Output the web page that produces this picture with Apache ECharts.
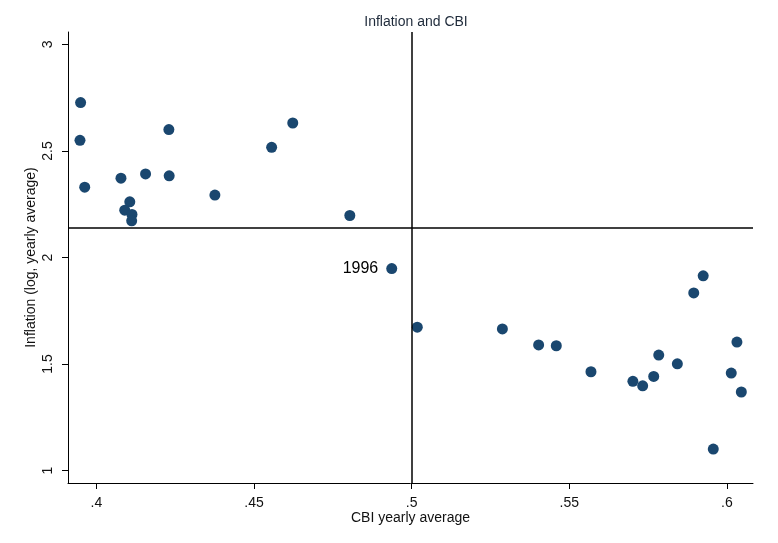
<!DOCTYPE html>
<html>
<head>
<meta charset="utf-8">
<script src="https://cdn.jsdelivr.net/npm/echarts@6/dist/echarts.min.js"></script>
<style>html,body{margin:0;padding:0;background:#fff;}#c{width:778px;height:543px;}</style>
</head>
<body>
<div id="c"></div>
<script>
const cbi = [0.395,0.3948,0.3963,0.4078,0.4156,0.423,0.4231,0.4106,0.409,0.4113,0.4112,0.4376,0.4556,0.4623,0.4804,0.4937,0.5018,0.5288,0.5403,0.5459,0.5569,0.5702,0.5733,0.5768,0.5784,0.5843,0.5895,0.5925,0.5957,0.6014,0.6032,0.6046];
const inflation = [2.727,2.550,2.330,2.372,2.392,2.600,2.383,2.261,2.222,2.202,2.172,2.293,2.517,2.631,2.197,1.948,1.673,1.665,1.590,1.586,1.464,1.419,1.398,1.442,1.542,1.501,1.834,1.914,1.101,1.458,1.603,1.369];
const pointLabels = ['','','','','','','','','','','','','','','','1996','','','','','','','','','','','','','','','',''];
const xTicks = [0.4,0.45,0.5,0.55,0.6];
const yTicks = [1,1.5,2,2.5,3];
const refX = 0.5;
const refY = 2.139;

const fmt = v => { let s = String(Math.round(v*100)/100); return s.startsWith('0.') ? s.slice(1) : s; };
const font = 'Liberation Sans, Arial, sans-serif';
const data = cbi.map((x,i)=>({value:[x,inflation[i]], name:pointLabels[i],
  label: pointLabels[i] ? {show:true, position:'left', formatter:pointLabels[i], color:'#000', fontSize:16, distance:8, fontFamily:font} : {show:false}}));

const chart = echarts.init(document.getElementById('c'));
chart.setOption({
  animation:false,
  backgroundColor:'#fff',
  title:{text:'Inflation and CBI', left:411, top:10, textAlign:'center',
    textStyle:{fontSize:14, fontWeight:'normal', color:'#1e2a3a', fontFamily:font}},
  grid:{left:68, right:25, top:32, bottom:60},
  xAxis:{type:'value', min:0.391, max:0.6083,
    name:'CBI yearly average', nameLocation:'middle', nameGap:28, nameMoveOverlap:false,
    nameTextStyle:{fontSize:14, color:'#111', fontFamily:font},
    axisLine:{show:true, onZero:false, lineStyle:{color:'#000', width:1}},
    axisTick:{show:true, length:6, lineStyle:{color:'#000'}, customValues:xTicks},
    axisLabel:{show:true, customValues:xTicks, formatter:fmt, fontSize:14, color:'#111', margin:13, fontFamily:font},
    splitLine:{show:false}},
  yAxis:{type:'value', min:0.942, max:3.058,
    name:'Inflation (log, yearly average)', nameLocation:'middle', nameGap:30, nameMoveOverlap:false,
    nameTextStyle:{fontSize:14, color:'#111', fontFamily:font},
    axisLine:{show:true, onZero:false, lineStyle:{color:'#000', width:1}},
    axisTick:{show:true, length:6, lineStyle:{color:'#000'}, customValues:yTicks},
    axisLabel:{show:true, customValues:yTicks, formatter:fmt, rotate:90, fontSize:14, color:'#111', margin:13, fontFamily:font},
    splitLine:{show:false}},
  series:[{
    type:'scatter', data:data, symbolSize:11,
    itemStyle:{color:'#1a476f', opacity:1},
    markLine:{silent:true, symbol:'none', label:{show:false},
      lineStyle:{color:'#000', width:1.5, type:'solid'},
      data:[{xAxis:refX},{yAxis:refY}]}
  }]
});
</script>
</body>
</html>
